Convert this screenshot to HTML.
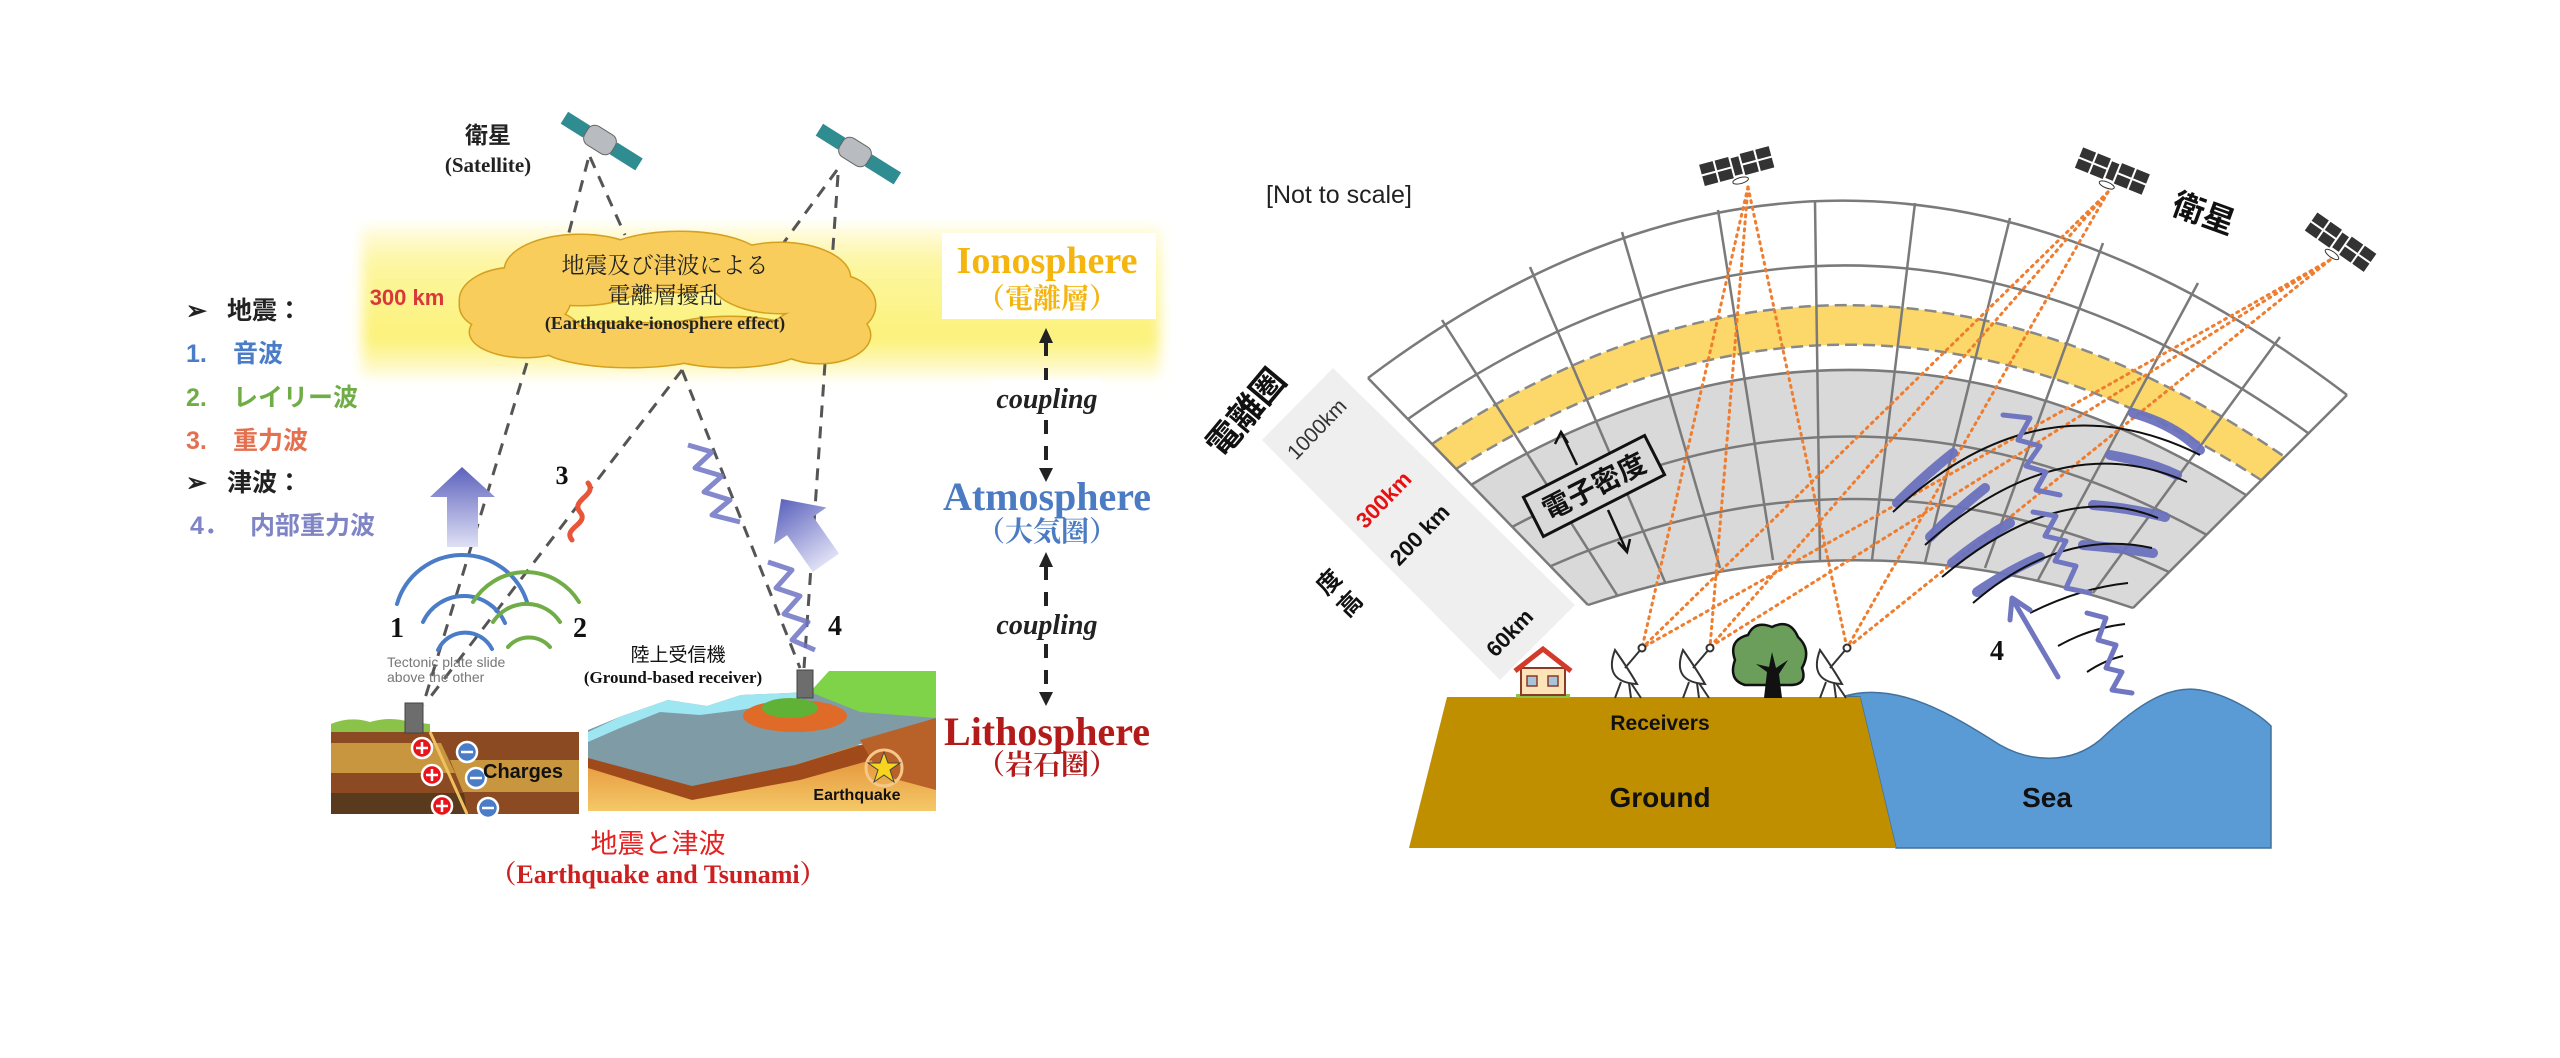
<!DOCTYPE html>
<html><head><meta charset="utf-8"><style>
html,body{margin:0;padding:0;background:#fff;}
svg{display:block;}
.ser{font-family:"Liberation Serif","Noto Serif CJK SC",serif;font-weight:bold;}
.san{font-family:"Liberation Sans","Noto Sans CJK JP",sans-serif;}
</style></head><body>
<svg width="2560" height="1058" viewBox="0 0 2560 1058" xmlns="http://www.w3.org/2000/svg">
<defs>
<linearGradient id="yb" x1="0" y1="0" x2="0" y2="1">
<stop offset="0" stop-color="#fffbe0"/><stop offset="0.25" stop-color="#fdf6a0"/><stop offset="0.75" stop-color="#fcf27a"/><stop offset="1" stop-color="#fffbe0"/></linearGradient>
<filter id="bl"><feGaussianBlur stdDeviation="6"/></filter>
<linearGradient id="pa" x1="0" y1="0" x2="0" y2="1"><stop offset="0" stop-color="#5c62bd"/><stop offset="1" stop-color="#dfe0f5"/></linearGradient>
<linearGradient id="ob" x1="0" y1="0" x2="0" y2="1"><stop offset="0" stop-color="#e08a30"/><stop offset="1" stop-color="#f5c868"/></linearGradient>
</defs>

<!-- ============ LEFT DIAGRAM ============ -->
<rect x="362" y="227" width="798" height="150" fill="url(#yb)" filter="url(#bl)"/>
<rect x="942" y="233" width="214" height="86" fill="#fff"/>

<g stroke="#555" stroke-width="3" stroke-dasharray="12 9" fill="none">
<line x1="588" y1="160" x2="567" y2="240"/>
<line x1="590" y1="157" x2="625" y2="235"/>
<line x1="837" y1="170" x2="782" y2="245"/>
<line x1="838" y1="175" x2="804" y2="668"/>
<line x1="533" y1="343" x2="423" y2="705"/>
<line x1="682" y1="370" x2="428" y2="700"/>
<line x1="682" y1="370" x2="800" y2="668"/>
</g>

<g stroke="#d4a020" stroke-width="3" fill="#f8cd5c">
<ellipse cx="515" cy="300" rx="55" ry="32"/><ellipse cx="580" cy="270" rx="75" ry="35"/><ellipse cx="680" cy="262" rx="85" ry="30"/><ellipse cx="780" cy="278" rx="70" ry="35"/><ellipse cx="835" cy="305" rx="40" ry="30"/><ellipse cx="820" cy="335" rx="50" ry="28"/><ellipse cx="730" cy="342" rx="80" ry="25"/><ellipse cx="630" cy="345" rx="90" ry="22"/><ellipse cx="525" cy="332" rx="55" ry="25"/><ellipse cx="495" cy="305" rx="35" ry="25"/>
</g>
<g fill="#f8cd5c">
<ellipse cx="515" cy="300" rx="55" ry="32"/><ellipse cx="580" cy="270" rx="75" ry="35"/><ellipse cx="680" cy="262" rx="85" ry="30"/><ellipse cx="780" cy="278" rx="70" ry="35"/><ellipse cx="835" cy="305" rx="40" ry="30"/><ellipse cx="820" cy="335" rx="50" ry="28"/><ellipse cx="730" cy="342" rx="80" ry="25"/><ellipse cx="630" cy="345" rx="90" ry="22"/><ellipse cx="525" cy="332" rx="55" ry="25"/><ellipse cx="495" cy="305" rx="35" ry="25"/>
</g>
<text x="665" y="273" text-anchor="middle" font-size="23" fill="#222" font-family="'Noto Serif CJK SC','Liberation Serif',serif">地震及び津波による</text>
<text x="665" y="303" text-anchor="middle" font-size="23" fill="#222" font-family="'Noto Serif CJK SC','Liberation Serif',serif">電離層擾乱</text>
<text x="665" y="329" text-anchor="middle" font-size="18" fill="#222" class="ser">(Earthquake-ionosphere effect)</text>

<text x="407" y="305" text-anchor="middle" font-size="22" fill="#d9383a" font-weight="bold" class="san">300 km</text>

<g transform="translate(600,140) rotate(32)">
<rect x="-42" y="-7" width="26" height="14" fill="#2f8c90"/><rect x="16" y="-7" width="30" height="14" fill="#2f8c90"/>
<rect x="-16" y="-11" width="32" height="22" rx="8" fill="#b8bcc0" stroke="#666"/>
</g>
<g transform="translate(855,152) rotate(32)">
<rect x="-42" y="-7" width="26" height="14" fill="#2f8c90"/><rect x="16" y="-7" width="34" height="14" fill="#2f8c90"/>
<rect x="-16" y="-11" width="32" height="22" rx="8" fill="#b8bcc0" stroke="#666"/>
</g>
<text x="488" y="143" text-anchor="middle" font-size="23" fill="#222" font-weight="bold" font-family="'Noto Sans CJK JP',sans-serif">衛星</text>
<text x="488" y="172" text-anchor="middle" font-size="21" fill="#222" class="ser">(Satellite)</text>

<g font-size="25" font-weight="bold" class="san">
<text x="186" y="319" fill="#222">➢</text><text x="227" y="319" fill="#222">地震：</text>
<text x="186" y="362" fill="#4a7cc7">1.</text><text x="233" y="362" fill="#4a7cc7">音波</text>
<text x="186" y="406" fill="#70ad47">2.</text><text x="233" y="406" fill="#70ad47">レイリー波</text>
<text x="186" y="449" fill="#e4704f">3.</text><text x="233" y="449" fill="#e4704f">重力波</text>
<text x="186" y="491" fill="#222">➢</text><text x="227" y="491" fill="#222">津波：</text>
<text x="190" y="534" fill="#7f84c4">4．</text><text x="250" y="534" fill="#7f84c4">内部重力波</text>
</g>

<text x="1047" y="273" text-anchor="middle" font-size="38" fill="#f5b50f" class="ser">Ionosphere</text>
<text x="1047" y="308" text-anchor="middle" font-size="28" fill="#f5b50f" class="ser">（電離層）</text>
<g stroke="#222" stroke-width="4" stroke-dasharray="14 12"><line x1="1046" y1="342" x2="1046" y2="468"/><line x1="1046" y1="566" x2="1046" y2="692"/></g>
<g fill="#222"><path d="M1046,328 L1039,343 L1053,343Z"/><path d="M1046,482 L1039,468 L1053,468Z"/><path d="M1046,552 L1039,567 L1053,567Z"/><path d="M1046,706 L1039,692 L1053,692Z"/></g>
<rect x="990" y="380" width="112" height="36" fill="#fff"/>
<text x="1047" y="408" text-anchor="middle" font-size="28" font-style="italic" fill="#222" class="ser">coupling</text>
<text x="1047" y="510" text-anchor="middle" font-size="40" fill="#4b7bc3" class="ser">Atmosphere</text>
<text x="1047" y="541" text-anchor="middle" font-size="28" fill="#4b7bc3" class="ser">（大気圏）</text>
<rect x="990" y="606" width="112" height="36" fill="#fff"/>
<text x="1047" y="634" text-anchor="middle" font-size="28" font-style="italic" fill="#222" class="ser">coupling</text>
<text x="1047" y="745" text-anchor="middle" font-size="40" fill="#b31b1b" class="ser">Lithosphere</text>
<text x="1047" y="774" text-anchor="middle" font-size="28" fill="#b31b1b" class="ser">（岩石圏）</text>

<path d="M447,547 L447,497 L430,497 L462,467 L495,497 L478,497 L478,547Z" fill="url(#pa)"/>
<g transform="translate(803,530) rotate(-35)"><path d="M-16,40 L-16,-5 L-32,-5 L0,-38 L32,-5 L16,-5 L16,40Z" fill="url(#pa)"/></g>
<path d="M588,483 C598,495 570,500 580,512 C590,524 562,528 572,540" stroke="#e8563a" stroke-width="5" fill="none" stroke-linecap="round"/>
<polyline points="688,445 712,452 695,468 722,476 704,492 730,500 712,515 740,522" stroke="#6e73c4" stroke-width="5" fill="none" stroke-linejoin="round" opacity="0.85"/>
<polyline points="768,562 792,570 776,588 800,596 784,614 808,622 792,640 815,650" stroke="#6e73c4" stroke-width="5" fill="none" stroke-linejoin="round" opacity="0.85"/>
<text x="562" y="484" text-anchor="middle" font-size="26" fill="#111" class="ser">3</text>
<text x="835" y="635" text-anchor="middle" font-size="28" fill="#111" class="ser">4</text>
<text x="397" y="637" text-anchor="middle" font-size="28" fill="#111" class="ser">1</text>
<text x="580" y="637" text-anchor="middle" font-size="28" fill="#111" class="ser">2</text>

<g fill="none" stroke-width="4" stroke-linecap="round">
<path d="M397,604 A68,68 0 0 1 527,602" stroke="#4a7cc7"/>
<path d="M423,622 A45,45 0 0 1 505,623" stroke="#4a7cc7"/>
<path d="M438,650 A30,30 0 0 1 492,649" stroke="#4a7cc7"/>
<path d="M473,602 A62,62 0 0 1 579,602" stroke="#70ad47"/>
<path d="M493,622 A40,40 0 0 1 560,622" stroke="#70ad47"/>
<path d="M508,647 A28,28 0 0 1 550,647" stroke="#70ad47"/>
</g>
<text x="387" y="667" font-size="14" fill="#777" class="san">Tectonic plate slide</text>
<text x="387" y="682" font-size="14" fill="#777" class="san">above the other</text>

<path d="M331,724 Q350,716 370,722 Q390,716 410,722 L430,724 L430,732 L331,732Z" fill="#8bc34a"/>
<path d="M440,742 Q470,730 500,738 Q540,730 579,742 L579,748 L440,748Z" fill="#8bc34a"/>
<rect x="331" y="732" width="248" height="82" fill="#8b4a22"/>
<polygon points="331,743 441,743 455,773 331,773" fill="#c8963e"/>
<polygon points="331,793 464,793 467,814 331,814" fill="#5a3a1c"/>
<polygon points="450,760 579,760 579,792 463,792" fill="#c8963e"/>
<line x1="430" y1="732" x2="467" y2="814" stroke="#f0c060" stroke-width="3"/>
<rect x="405" y="703" width="18" height="30" fill="#6d6d6d" stroke="#444"/>
<g stroke="#fff" stroke-width="2.5">
<circle cx="422" cy="748" r="10" fill="#e8141a"/><line x1="416" y1="748" x2="428" y2="748"/><line x1="422" y1="742" x2="422" y2="754"/>
<circle cx="432" cy="775" r="10" fill="#e8141a"/><line x1="426" y1="775" x2="438" y2="775"/><line x1="432" y1="769" x2="432" y2="781"/>
<circle cx="442" cy="806" r="10" fill="#e8141a"/><line x1="436" y1="806" x2="448" y2="806"/><line x1="442" y1="800" x2="442" y2="812"/>
<circle cx="467" cy="752" r="10" fill="#4a7cc7"/><line x1="461" y1="752" x2="473" y2="752"/>
<circle cx="476" cy="778" r="10" fill="#4a7cc7"/><line x1="470" y1="778" x2="482" y2="778"/>
<circle cx="488" cy="808" r="10" fill="#4a7cc7"/><line x1="482" y1="808" x2="494" y2="808"/>
</g>
<text x="483" y="778" font-size="20" font-weight="bold" fill="#111" class="san">Charges</text>

<rect x="588" y="745" width="348" height="66" fill="url(#ob)"/>
<polygon points="588,752 692,782 795,765 936,722 936,742 800,780 692,800 588,768" fill="#a04a1c"/>
<polygon points="588,730 622,716 668,700 707,706 741,695 810,692 850,700 936,700 936,720 795,765 692,786 588,758" fill="#7f9ba6"/>
<polygon points="588,732 622,716 668,700 707,706 741,695 810,692 800,700 740,710 700,715 660,712 620,728 588,742" fill="#9de6f2"/>
<polygon points="810,692 829,671 936,671 936,718 860,712" fill="#7ed348"/>
<polygon points="860,740 936,718 936,790 880,775" fill="#b8622a"/>
<ellipse cx="795" cy="716" rx="52" ry="16" fill="#e06a28"/>
<ellipse cx="790" cy="708" rx="28" ry="10" fill="#5fb236"/>
<rect x="797" y="670" width="16" height="28" fill="#6d6d6d" stroke="#444"/>
<circle cx="884" cy="768" r="18" fill="none" stroke="#f5c888" stroke-width="3"/>
<path d="M884,752 L888,763 L900,763 L890,770 L894,782 L884,775 L874,782 L878,770 L868,763 L880,763Z" fill="#f7d51e" stroke="#444"/>
<text x="857" y="800" text-anchor="middle" font-size="16" font-weight="bold" fill="#111" class="san">Earthquake</text>
<text x="678" y="661" text-anchor="middle" font-size="19" fill="#111" class="san">陸上受信機</text>
<text x="673" y="683" text-anchor="middle" font-size="17" fill="#111" class="ser">(Ground-based receiver)</text>

<text x="658" y="853" text-anchor="middle" font-size="27" fill="#e32222" class="san">地震と津波</text>
<text x="658" y="883" text-anchor="middle" font-size="26" fill="#cc1f1f" class="ser">（Earthquake and Tsunami）</text>

<!-- ============ RIGHT DIAGRAM ============ -->
<text x="1266" y="203" font-size="25" fill="#222" class="san">[Not to scale]</text>

<polygon points="1333,368 1575,605 1500,680 1262,440" fill="#efefef"/>

<path d="M1471,485 Q1855,250 2246,495 L2133,608 Q1860,514 1588,605 Z" fill="#d9d9d9"/>
<path d="M1432,444 Q1853,160 2285,457 L2261,480 Q1854,215 1456,469 Z" fill="#fcd76a"/>
<g fill="none" stroke="#888" stroke-width="2.5" stroke-dasharray="12 6">
<path d="M1432,444 Q1853,160 2285,457"/><path d="M1456,469 Q1854,215 2261,480"/>
</g>
<g fill="none" stroke="#7a7a7a" stroke-width="2.5">
<path d="M1368,378 Q1850,15 2347,395"/>
<path d="M1408,419 Q1852,105 2308,433"/>
<path d="M1471,485 Q1855,250 2246,495"/>
<path d="M1512,527 Q1857,342 2207,535"/>
<path d="M1551,566 Q1858,429 2169,572"/>
<path d="M1588,605 Q1860,514 2133,608"/>
<line x1="1368" y1="378" x2="1588" y2="605"/><line x1="2347" y1="395" x2="2133" y2="608"/>
<line x1="1442" y1="320" x2="1617" y2="595"/><line x1="1530" y1="267" x2="1665" y2="582"/>
<line x1="1622" y1="232" x2="1720" y2="568"/><line x1="1718" y1="210" x2="1773" y2="560"/>
<line x1="1815" y1="202" x2="1820" y2="560"/><line x1="1915" y1="203" x2="1872" y2="560"/>
<line x1="2010" y1="218" x2="1925" y2="563"/><line x1="2103" y1="243" x2="1985" y2="568"/>
<line x1="2198" y1="283" x2="2038" y2="580"/><line x1="2280" y1="337" x2="2093" y2="593"/>
</g>

<g stroke="#ef7d2f" stroke-width="3" stroke-dasharray="2 5" stroke-linecap="round" fill="none">
<line x1="1748" y1="187" x2="1642" y2="648"/><line x1="1748" y1="187" x2="1710" y2="647"/><line x1="1748" y1="187" x2="1847" y2="648"/>
<line x1="2108" y1="192" x2="1642" y2="648"/><line x1="2108" y1="192" x2="1710" y2="647"/><line x1="2108" y1="192" x2="1847" y2="648"/>
<line x1="2330" y1="260" x2="1710" y2="647"/><line x1="2330" y1="260" x2="1847" y2="648"/><line x1="2330" y1="260" x2="1642" y2="648"/>
</g>

<g transform="translate(1594,486) rotate(-27)">
<rect x="-68" y="-22" width="136" height="44" fill="#d9d9d9" stroke="#111" stroke-width="3"/>
<text x="0" y="10" text-anchor="middle" font-size="28" font-weight="bold" fill="#111" font-family="'Noto Sans CJK JP',sans-serif">電子密度</text>
</g>
<g stroke="#111" stroke-width="2.5" fill="none">
<line x1="1577" y1="465" x2="1561" y2="432"/><polyline points="1555,444 1561,432 1568,443"/>
<line x1="1608" y1="510" x2="1627" y2="552"/><polyline points="1618,542 1627,552 1630,539"/>
</g>

<g stroke="#6b72bd" stroke-width="10" stroke-linecap="round" fill="none" opacity="0.95">
<path d="M1897,503 Q1925,475 1953,453"/><path d="M2133,413 Q2175,425 2200,450"/>
<path d="M1930,537 Q1957,510 1985,488"/><path d="M2110,455 Q2150,462 2177,475"/>
<path d="M1952,563 Q1980,540 2010,523"/><path d="M2093,505 Q2130,508 2165,517"/>
<path d="M1977,592 Q2010,570 2040,557"/><path d="M2083,545 Q2120,548 2153,553"/>
</g>
<g stroke="#111" stroke-width="2" fill="none">
<path d="M1893,512 Q2040,375 2200,455"/>
<path d="M1925,545 Q2060,425 2187,482"/>
<path d="M1942,577 Q2060,478 2158,518"/>
<path d="M1973,603 Q2060,528 2152,548"/>
<path d="M2030,613 Q2080,588 2128,583"/>
<path d="M2058,646 Q2090,628 2125,624"/>
<path d="M2087,672 Q2105,660 2123,656"/>
</g>
<g stroke="#7077c0" stroke-width="5" fill="none" stroke-linejoin="round" stroke-linecap="round">
<polyline points="2003,415 2030,418 2018,440 2040,446 2026,466 2046,472 2036,490 2060,495"/>
<polyline points="2033,512 2056,516 2045,536 2066,541 2055,561 2076,566 2066,588 2090,593"/>
<polyline points="2087,613 2106,618 2098,640 2116,645 2106,668 2122,672 2112,690 2132,693"/>
<line x1="2058" y1="677" x2="2013" y2="600"/><polyline points="2010,620 2012,598 2030,610"/>
</g>
<text x="1997" y="660" text-anchor="middle" font-size="28" fill="#111" class="ser">4</text>

<g transform="translate(1737,167) rotate(-15)" fill="#333">
<rect x="-36" y="-12" width="14" height="10"/><rect x="-20" y="-12" width="14" height="10"/><rect x="-36" y="0" width="14" height="10"/><rect x="-20" y="0" width="14" height="10"/>
<rect x="6" y="-12" width="14" height="10"/><rect x="22" y="-12" width="14" height="10"/><rect x="6" y="0" width="14" height="10"/><rect x="22" y="0" width="14" height="10"/>
<rect x="-4" y="-10" width="8" height="18"/><ellipse cx="0" cy="14" rx="8" ry="3" fill="none" stroke="#333"/>
</g>
<g transform="translate(2112,172) rotate(22)" fill="#333">
<rect x="-36" y="-12" width="14" height="10"/><rect x="-20" y="-12" width="14" height="10"/><rect x="-36" y="0" width="14" height="10"/><rect x="-20" y="0" width="14" height="10"/>
<rect x="6" y="-12" width="14" height="10"/><rect x="22" y="-12" width="14" height="10"/><rect x="6" y="0" width="14" height="10"/><rect x="22" y="0" width="14" height="10"/>
<rect x="-4" y="-10" width="8" height="18"/><ellipse cx="0" cy="14" rx="8" ry="3" fill="none" stroke="#333"/>
</g>
<g transform="translate(2340,243) rotate(35)" fill="#333">
<rect x="-36" y="-12" width="14" height="10"/><rect x="-20" y="-12" width="14" height="10"/><rect x="-36" y="0" width="14" height="10"/><rect x="-20" y="0" width="14" height="10"/>
<rect x="6" y="-12" width="14" height="10"/><rect x="22" y="-12" width="14" height="10"/><rect x="6" y="0" width="14" height="10"/><rect x="22" y="0" width="14" height="10"/>
<rect x="-4" y="-10" width="8" height="18"/><ellipse cx="0" cy="14" rx="8" ry="3" fill="none" stroke="#333"/>
</g>
<text transform="translate(2200,224) rotate(20)" text-anchor="middle" font-size="32" font-weight="bold" fill="#111" font-family="'Noto Sans CJK JP',sans-serif">衛星</text>

<text transform="translate(1255,420) rotate(-50)" text-anchor="middle" font-size="34" font-weight="bold" fill="#111" font-family="'Noto Sans CJK JP',sans-serif">電離圏</text>
<text transform="translate(1322,434) rotate(-46)" text-anchor="middle" font-size="21" fill="#333" class="san">1000km</text>
<text transform="translate(1389,505) rotate(-46)" text-anchor="middle" font-size="22" font-weight="bold" fill="#e81010" class="san">300km</text>
<text transform="translate(1425,540) rotate(-46)" text-anchor="middle" font-size="22" font-weight="bold" fill="#111" class="san">200 km</text>
<text transform="translate(1335,588) rotate(-46)" text-anchor="middle" font-size="24" font-weight="bold" fill="#111" font-family="'Noto Sans CJK JP',sans-serif">度</text>
<text transform="translate(1356,610) rotate(-46)" text-anchor="middle" font-size="24" font-weight="bold" fill="#111" font-family="'Noto Sans CJK JP',sans-serif">高</text>
<text transform="translate(1515,638) rotate(-46)" text-anchor="middle" font-size="22" font-weight="bold" fill="#111" class="san">60km</text>

<path d="M1845,696 C1900,680 1960,720 2000,745 C2030,762 2070,765 2100,740 C2140,702 2170,685 2200,690 C2230,695 2260,715 2271,726 L2271,848 L1896,848 L1860,697 Z" fill="#5b9bd5" stroke="#41719c" stroke-width="1.5"/>
<polygon points="1447,697 1860,697 1896,848 1409,848" fill="#bf8f00"/>
<text x="1660" y="730" text-anchor="middle" font-size="21" font-weight="bold" fill="#111" class="san">Receivers</text>
<text x="1660" y="807" text-anchor="middle" font-size="28" font-weight="bold" fill="#111" class="san">Ground</text>
<text x="2047" y="807" text-anchor="middle" font-size="28" font-weight="bold" fill="#111" class="san">Sea</text>

<rect x="1516" y="694" width="54" height="4" fill="#8bc34a"/>
<rect x="1521" y="668" width="44" height="27" fill="#fde3b8" stroke="#8b3a2a" stroke-width="2"/>
<path d="M1515,671 L1543,649 L1571,671" fill="none" stroke="#d43a2a" stroke-width="5"/>
<rect x="1527" y="676" width="10" height="10" fill="#a8c4d8" stroke="#8b3a2a" stroke-width="1.5"/>
<rect x="1548" y="676" width="10" height="10" fill="#a8c4d8" stroke="#8b3a2a" stroke-width="1.5"/>

<g fill="#fff" stroke="#333" stroke-width="2">
<g transform="translate(1627,672)"><path d="M-12,-22 Q-24,10 10,12 Q2,-2 -12,-22Z"/><line x1="-2" y1="-4" x2="15" y2="-24"/><circle cx="15" cy="-24" r="3.5"/><line x1="-6" y1="10" x2="-12" y2="26"/><line x1="2" y1="11" x2="4" y2="26"/><line x1="4" y1="11" x2="14" y2="26"/></g>
<g transform="translate(1695,672)"><path d="M-12,-22 Q-24,10 10,12 Q2,-2 -12,-22Z"/><line x1="-2" y1="-4" x2="15" y2="-24"/><circle cx="15" cy="-24" r="3.5"/><line x1="-6" y1="10" x2="-12" y2="26"/><line x1="2" y1="11" x2="4" y2="26"/><line x1="4" y1="11" x2="14" y2="26"/></g>
<g transform="translate(1832,672)"><path d="M-12,-22 Q-24,10 10,12 Q2,-2 -12,-22Z"/><line x1="-2" y1="-4" x2="15" y2="-24"/><circle cx="15" cy="-24" r="3.5"/><line x1="-6" y1="10" x2="-12" y2="26"/><line x1="2" y1="11" x2="4" y2="26"/><line x1="4" y1="11" x2="14" y2="26"/></g>
</g>
<path d="M1745,685 Q1728,680 1735,660 Q1728,640 1748,635 Q1755,620 1772,627 Q1790,618 1798,637 Q1812,650 1802,668 Q1808,685 1790,685 Z" fill="#6b9e5a" stroke="#111" stroke-width="2.5"/>
<path d="M1764,698 L1767,672 L1756,664 L1769,667 L1772,652 L1776,668 L1788,660 L1779,674 L1782,698Z" fill="#111"/>
</svg>
</body></html>
